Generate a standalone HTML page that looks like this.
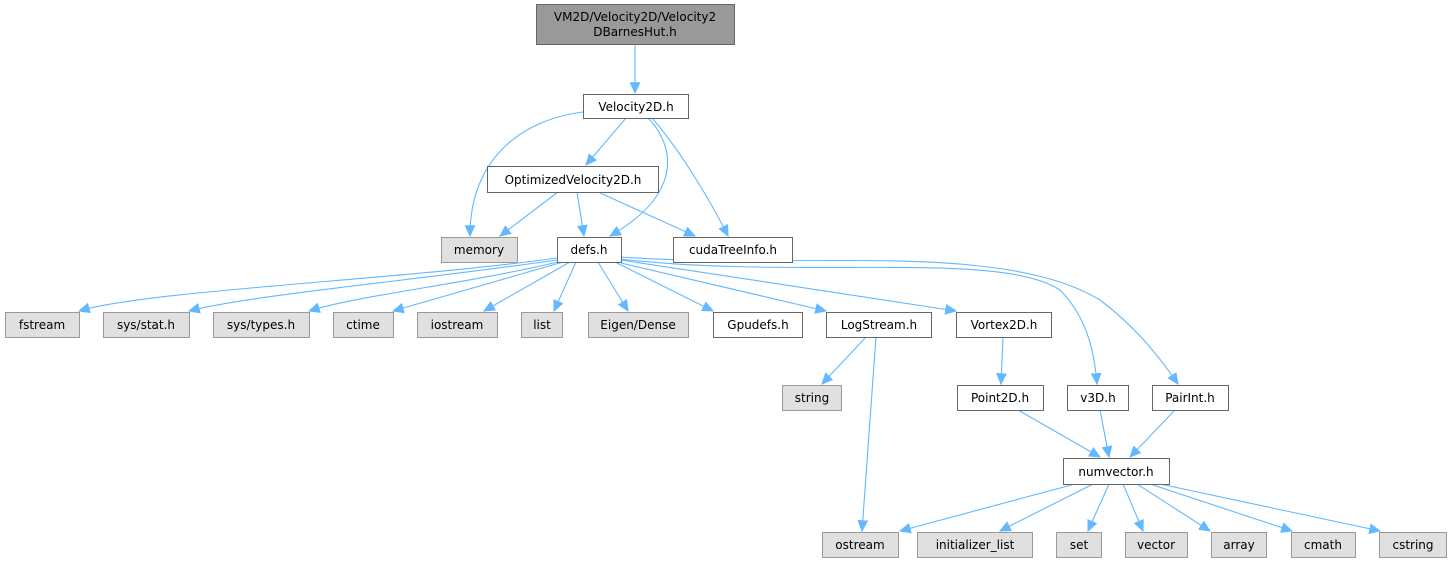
<!DOCTYPE html>
<html><head><meta charset="utf-8"><style>
html,body{margin:0;padding:0;background:#fff;}
svg{display:block}
text{font-family:"DejaVu Sans","Liberation Sans",sans-serif;font-size:12px;fill:#000}
.e{fill:none;stroke:#63b8ff;stroke-width:1.1}
.w{fill:#fff;stroke:#666}
.g{fill:#e0e0e0;stroke:#999}
</style></head><body>
<svg width="1451" height="564" viewBox="0 0 1451 564" xmlns="http://www.w3.org/2000/svg">
<defs><marker id="a" viewBox="0 0 10 10" refX="9" refY="5" markerWidth="12" markerHeight="12" markerUnits="userSpaceOnUse" orient="auto"><path d="M0,0.5 L10,5 L0,9.5 z" fill="#63b8ff"/></marker></defs>
<g marker-end="url(#a)">
<path class="e" d="M635,44 L635,93"/>
<path class="e" d="M583,112 C520,120 470,160 470,236"/>
<path class="e" d="M626,118 L586,165"/>
<path class="e" d="M648,118 C670,140 690,190 610,236"/>
<path class="e" d="M652,118 C680,150 710,200 728,236"/>
<path class="e" d="M558,192 L500,236"/>
<path class="e" d="M577,192 L584,236"/>
<path class="e" d="M598,192 L695,236"/>
<path class="e" d="M557,258 C400,280 150,290 79,311"/>
<path class="e" d="M557,260 C420,280 250,295 189,311"/>
<path class="e" d="M558,262 C460,285 360,295 309,311"/>
<path class="e" d="M563,262 L393,311"/>
<path class="e" d="M570,262 L484,311"/>
<path class="e" d="M576,262 L554,311"/>
<path class="e" d="M598,262 L628,311"/>
<path class="e" d="M615,262 L713,311"/>
<path class="e" d="M621,263 L826,311"/>
<path class="e" d="M621,260 L956,311"/>
<path class="e" d="M621,259 C800,280 1000,250 1060,290 C1090,320 1095,360 1097,384"/>
<path class="e" d="M621,257 C800,270 1000,240 1100,300 C1140,330 1165,365 1178,384"/>
<path class="e" d="M866,337 L822,384"/>
<path class="e" d="M876,337 L862,531"/>
<path class="e" d="M1003,337 L1001,384"/>
<path class="e" d="M1018,410 L1100,457"/>
<path class="e" d="M1100,410 L1109,457"/>
<path class="e" d="M1175,410 L1130,457"/>
<path class="e" d="M1075,484 L900,531"/>
<path class="e" d="M1093,484 L1000,531"/>
<path class="e" d="M1109,484 L1088,531"/>
<path class="e" d="M1123,484 L1143,531"/>
<path class="e" d="M1137,484 L1210,531"/>
<path class="e" d="M1150,484 L1292,531"/>
<path class="e" d="M1160,484 L1380,531"/>
</g>
<rect x="536.5" y="4.5" width="198" height="40" fill="#999" stroke="#666"/>
<text x="635" y="21" text-anchor="middle">VM2D/Velocity2D/Velocity2</text>
<text x="635" y="36" text-anchor="middle">DBarnesHut.h</text>
<g text-anchor="middle">
<rect class="w" x="583.5" y="94.5" width="105" height="24"/><text x="636" y="111">Velocity2D.h</text>
<rect class="w" x="487.5" y="166.5" width="171" height="26"/><text x="573" y="184">OptimizedVelocity2D.h</text>
<rect class="g" x="441.5" y="237.5" width="76" height="25"/><text x="479" y="254">memory</text>
<rect class="w" x="557.5" y="237.5" width="64" height="25"/><text x="589" y="254">defs.h</text>
<rect class="w" x="673.5" y="237.5" width="119" height="25"/><text x="733" y="254">cudaTreeInfo.h</text>
<rect class="g" x="5.5" y="312.5" width="74" height="25"/><text x="42" y="329">fstream</text>
<rect class="g" x="103.5" y="312.5" width="86" height="25"/><text x="146" y="329">sys/stat.h</text>
<rect class="g" x="213.5" y="312.5" width="96" height="25"/><text x="261" y="329">sys/types.h</text>
<rect class="g" x="333.5" y="312.5" width="60" height="25"/><text x="363" y="329">ctime</text>
<rect class="g" x="417.5" y="312.5" width="80" height="25"/><text x="457" y="329">iostream</text>
<rect class="g" x="521.5" y="312.5" width="41" height="25"/><text x="542" y="329">list</text>
<rect class="g" x="588.5" y="312.5" width="100" height="25"/><text x="638" y="329">Eigen/Dense</text>
<rect class="w" x="713.5" y="312.5" width="89" height="25"/><text x="758" y="329">Gpudefs.h</text>
<rect class="w" x="826.5" y="312.5" width="105" height="25"/><text x="879" y="329">LogStream.h</text>
<rect class="w" x="956.5" y="312.5" width="95" height="25"/><text x="1004" y="329">Vortex2D.h</text>
<rect class="g" x="782.5" y="385.5" width="59" height="25"/><text x="812" y="402">string</text>
<rect class="w" x="957.5" y="385.5" width="86" height="25"/><text x="1000" y="402">Point2D.h</text>
<rect class="w" x="1067.5" y="385.5" width="61" height="25"/><text x="1098" y="402">v3D.h</text>
<rect class="w" x="1152.5" y="385.5" width="76" height="25"/><text x="1190" y="402">PairInt.h</text>
<rect class="w" x="1063.5" y="458.5" width="106" height="26"/><text x="1116" y="476">numvector.h</text>
<rect class="g" x="822.5" y="532.5" width="76" height="25"/><text x="860" y="549">ostream</text>
<rect class="g" x="917.5" y="532.5" width="115" height="25"/><text x="975" y="549">initializer_list</text>
<rect class="g" x="1056.5" y="532.5" width="45" height="25"/><text x="1079" y="549">set</text>
<rect class="g" x="1125.5" y="532.5" width="62" height="25"/><text x="1156" y="549">vector</text>
<rect class="g" x="1211.5" y="532.5" width="55" height="25"/><text x="1239" y="549">array</text>
<rect class="g" x="1291.5" y="532.5" width="64" height="25"/><text x="1323" y="549">cmath</text>
<rect class="g" x="1379.5" y="532.5" width="67" height="25"/><text x="1413" y="549">cstring</text>
</g>
</svg>
</body></html>
